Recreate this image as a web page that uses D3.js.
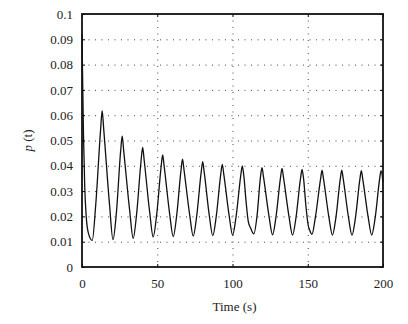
<!DOCTYPE html>
<html><head><meta charset="utf-8">
<script src="https://cdn.jsdelivr.net/npm/d3@7"></script>
<style>
html,body{margin:0;padding:0;background:#fff;}
text{font-family:"Liberation Serif","Times New Roman",Times,serif;}
</style></head>
<body><svg id="c" width="408" height="324"></svg>
<script>
const times = [0,0.4,1,1.8,2.8,4.2,6.8,
  9.1,12.4,13.4,14.4,18.3,20.6,
  22.9,25.7,26.7,27.7,31.7,34.0,
  36.3,39.3,40.3,41.3,45.0,47.3,
  49.6,52.6,53.6,54.6,58.3,60.6,
  62.9,65.8,66.8,67.8,71.6,73.9,
  76.2,79.2,80.2,81.2,84.6,86.9,
  89.2,92.2,93.2,94.2,97.8,100.1,
  102.4,105.5,106.5,107.5,109.0,110.5,112.1,114.2,
  116.3,118.6,119.6,120.6,124.3,126.6,
  128.9,131.9,132.9,133.9,137.6,139.9,
  142.2,145.2,146.2,147.2,148.8,150.3,151.3,152.8,
  155.1,158.5,159.5,160.5,164.1,166.4,
  168.7,171.6,172.6,173.6,177.1,179.4,
  181.7,184.6,185.6,186.6,190.2,192.5,
  194.8,197.7,198.7,200];
const probs = [0.092,0.075,0.052,0.032,0.020,0.0135,0.0105,
  0.0244,0.0546,0.0618,0.0547,0.0246,0.0108,
  0.0218,0.0460,0.0517,0.0460,0.0222,0.0113,
  0.0210,0.0423,0.0473,0.0423,0.0215,0.0119,
  0.0206,0.0398,0.0443,0.0398,0.0207,0.0120,
  0.0203,0.0383,0.0426,0.0383,0.0204,0.0122,
  0.0201,0.0375,0.0416,0.0375,0.0203,0.0124,
  0.0200,0.0367,0.0406,0.0367,0.0202,0.0126,
  0.0200,0.0362,0.0400,0.0362,0.0260,0.0179,0.0153,0.0131,
  0.0202,0.0356,0.0393,0.0356,0.0199,0.0127,
  0.0198,0.0353,0.0390,0.0353,0.0197,0.0126,
  0.0196,0.0350,0.0386,0.0350,0.0240,0.0165,0.0145,0.0129,
  0.0198,0.0347,0.0383,0.0347,0.0195,0.0126,
  0.0195,0.0347,0.0383,0.0347,0.0195,0.0126,
  0.0195,0.0345,0.0381,0.0345,0.0195,0.0126,
  0.0195,0.0345,0.0381,0.0335];
const xTicks = [0,50,100,150,200];
const yTicks = [0,0.01,0.02,0.03,0.04,0.05,0.06,0.07,0.08,0.09,0.1];
const yTickLabels = ["0","0.01","0.02","0.03","0.04","0.05","0.06","0.07","0.08","0.09","0.1"];
const xLabel = "Time (s)";

const svg = d3.select("#c");
const L=82, R=383, T=14, B=267;
const x = d3.scaleLinear().domain([0,200]).range([L,R]);
const y = d3.scaleLinear().domain([0,0.1]).range([B,T]);

// grid
const g = svg.append("g");
g.selectAll(".gy").data(yTicks.slice(1,-1)).enter().append("line")
 .attr("x1",L).attr("x2",R).attr("y1",d=>y(d)+0.5).attr("y2",d=>y(d)+0.5)
 .attr("stroke","#444").attr("stroke-width",1).attr("stroke-dasharray","1,5.5");
g.selectAll(".gx").data(xTicks.slice(1,-1)).enter().append("line")
 .attr("y1",T).attr("y2",B).attr("x1",d=>x(d)+0.5).attr("x2",d=>x(d)+0.5)
 .attr("stroke","#444").attr("stroke-width",1).attr("stroke-dasharray","1,5.5");

// line
const data = times.map((t,i)=>[t,probs[i]]);
svg.append("path").datum(data)
 .attr("fill","none").attr("stroke","#111").attr("stroke-width",1.3)
 .attr("d", d3.line().x(d=>x(d[0])).y(d=>y(d[1])).curve(d3.curveMonotoneX));

// axes
const fmtY = (d)=>yTickLabels[yTicks.indexOf(d)];
const ax = (gen, tf)=>{
  const a = svg.append("g").attr("transform",tf).call(gen);
  a.attr("font-family",null);
  a.select(".domain").remove();
  a.selectAll("line").attr("stroke","#000");
  a.selectAll("text").attr("font-size","13px").attr("fill","#222");
  return a;
};
ax(d3.axisLeft(y).tickValues(yTicks).tickFormat(fmtY).tickSizeInner(-3).tickSizeOuter(0).tickPadding(9), `translate(${L},0)`);
ax(d3.axisRight(y).tickValues(yTicks).tickFormat("").tickSizeInner(-3).tickSizeOuter(0), `translate(${R},0)`);
ax(d3.axisBottom(x).tickValues(xTicks).tickFormat(d3.format("d")).tickSizeInner(-3).tickSizeOuter(0).tickPadding(12), `translate(0,${B})`);
ax(d3.axisTop(x).tickValues(xTicks).tickFormat("").tickSizeInner(-3).tickSizeOuter(0), `translate(0,${T})`);

// frame
svg.append("rect").attr("x",L).attr("y",T).attr("width",R-L).attr("height",B-T)
 .attr("fill","none").attr("stroke","#111").attr("stroke-width",1.8);

// labels
svg.append("text").attr("x",(L+R)/2+2).attr("y",311).attr("text-anchor","middle")
 .attr("font-size","13px").attr("fill","#222").text(xLabel);
const yl = svg.append("text").attr("transform",`translate(32,${(T+B)/2}) rotate(-90)`)
 .attr("text-anchor","middle").attr("font-size","13px").attr("fill","#222");
yl.append("tspan").attr("font-style","italic").text("p");
yl.append("tspan").text(" (t)");
</script></body></html>
